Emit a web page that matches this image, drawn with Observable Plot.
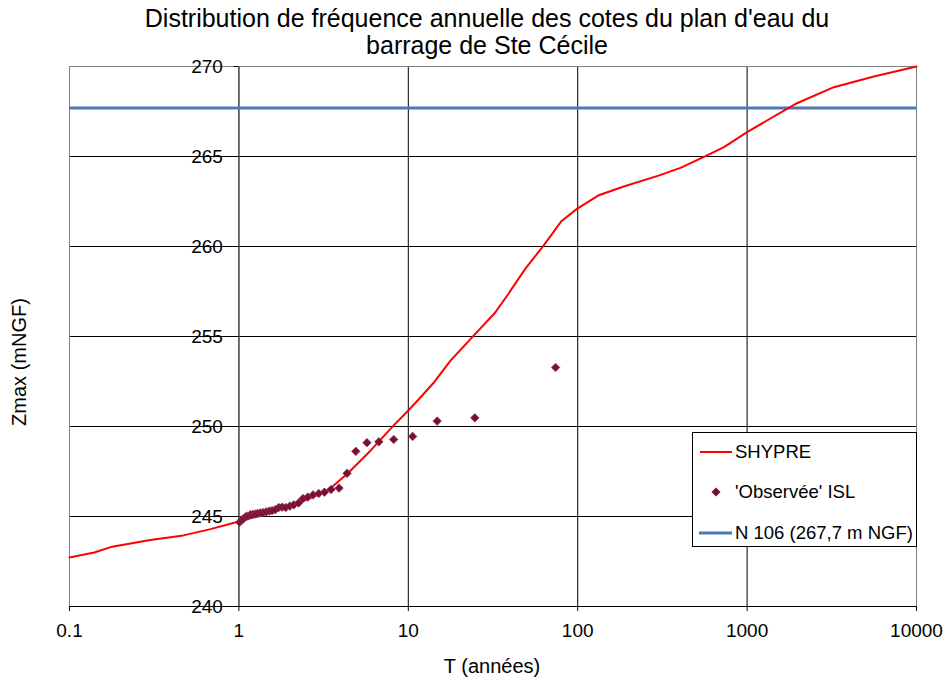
<!DOCTYPE html>
<html>
<head>
<meta charset="utf-8">
<script src="https://cdn.jsdelivr.net/npm/d3@7"></script>
<script src="https://cdn.jsdelivr.net/npm/@observablehq/plot@0.6"></script>
<style>
  body { margin: 0; background: #fff; font-family: Arial, "Liberation Sans", sans-serif; }
  #chart { position: relative; width: 946px; height: 686px; overflow: hidden; }
  #chart > svg { position: absolute; left: 0; top: 0; }
  #title { position: absolute; left: 87px; width: 800px; top: 5px; text-align: center;
           font-size: 25px; line-height: 27px; color: #000; }
  #xlabel { position: absolute; left: 392px; width: 200px; top: 655px; text-align: center; font-size: 20px; }
  #ylabel { position: absolute; left: -80px; width: 200px; top: 350px; text-align: center; font-size: 20px;
            transform: rotate(-90deg); transform-origin: 100px 12px; }
  #legend { position: absolute; left: 692px; top: 432px; width: 225px; height: 115px;
            border: 1px solid #000; background: #fff; box-sizing: border-box; font-size: 18.5px; }
  #legend .item { position: absolute; left: 6px; height: 24px; display: flex; align-items: center; white-space: nowrap; }
  #legend .item svg { position: static; margin-right: 2px; flex: none; }
</style>
</head>
<body>
<div id="chart">
  <div id="title">Distribution de fréquence annuelle des cotes du plan d'eau du<br>barrage de Ste Cécile</div>
  <div id="xlabel">T (années)</div>
  <div id="ylabel">Zmax (mNGF)</div>
</div>
<script>
// SHYPRE simulated frequency curve: return period (years) and max level (m NGF)
const shypreT = [0.1, 0.14, 0.175, 0.3, 0.47, 0.68, 1, 1.4, 2.2, 3.2, 3.5, 4.4, 6.0, 8.2, 10, 11.5, 14.2,
                 17.8, 24.4, 32.7, 38.4, 49, 63, 80, 99, 132, 185, 300, 404, 580, 730, 1000, 1310, 1970,
                 3250, 5600, 10000];
const shypreZ = [242.72, 243.0, 243.3, 243.7, 243.95, 244.3, 244.72, 245.1, 245.7, 246.35, 246.6, 247.4,
                 248.67, 250.06, 250.89, 251.5, 252.46, 253.67, 255.06, 256.35, 257.28, 258.76, 260.06,
                 261.4, 262.09, 262.83, 263.32, 263.94, 264.37, 265.06, 265.52, 266.35, 267.0, 267.96,
                 268.85, 269.44, 270.0];

// Observed annual maxima (ISL) with their empirical return periods
const obsT = [1.01, 1.04, 1.07, 1.10, 1.13, 1.17, 1.21, 1.25, 1.29, 1.34, 1.39, 1.45, 1.51, 1.57, 1.64,
              1.72, 1.8, 1.89, 2.0, 2.11, 2.25, 2.39, 2.55, 2.74, 2.96, 3.2, 3.5, 3.9, 4.35, 4.9, 5.7,
              6.7, 8.2, 10.6, 14.8, 24.7, 74];
const obsZ = [244.68, 244.8, 244.9, 245.0, 245.03, 245.1, 245.12, 245.14, 245.17, 245.2, 245.22, 245.26,
              245.3, 245.33, 245.38, 245.5, 245.52, 245.5, 245.58, 245.65, 245.75, 246.0, 246.08, 246.2,
              246.28, 246.35, 246.5, 246.58, 247.4, 248.62, 249.1, 249.15, 249.28, 249.45, 250.3, 250.48,
              253.28];

// Reference level N 106
const n106Level = 267.7;

// Axis ticks
const xTicks = [0.1, 1, 10, 100, 1000, 10000];
const yTicks = [240, 245, 250, 255, 260, 265, 270];

const shypre = shypreT.map((t, i) => ({T: t, Z: shypreZ[i]}));
const observed = obsT.map((t, i) => ({T: t, Z: obsZ[i]}));

const fontSize = 19;

const plot = Plot.plot({
  width: 946,
  height: 686,
  marginTop: 66,
  marginLeft: 69,
  marginRight: 30,
  marginBottom: 80,
  style: {fontFamily: "Arial, 'Liberation Sans', sans-serif", background: "transparent", color: "#000"},
  x: {type: "log", domain: [0.1, 10000]},
  y: {domain: [240, 270], axis: null},
  marks: [
    Plot.gridY(yTicks.filter(d => d > 240 && d < 270), {stroke: "#000", strokeOpacity: 1}),
    Plot.gridX(xTicks.filter(d => d > 0.1 && d < 10000), {stroke: "#000", strokeOpacity: 1}),
    Plot.frame({stroke: "#808080"}),
    Plot.ruleY([240], {stroke: "#000"}),
    Plot.ruleX([1], {stroke: "#555"}),
    Plot.axisX(xTicks, {tickSize: 5, tickPadding: 12, fontSize, tickFormat: d => String(d), label: null}),
    // y axis crosses at T = 1: ticks pointing left, labels beside them
    Plot.ruleY(yTicks, {y: d => d, x1: 1, x2: 1, insetLeft: -5, stroke: "#000"}),
    Plot.text(yTicks, {x: 1, y: d => d, text: d => String(d), dx: -16, textAnchor: "end", fontSize}),
    Plot.ruleY([n106Level], {stroke: "#4a7ab5", strokeWidth: 3}),
    Plot.line(shypre, {x: "T", y: "Z", stroke: "#ff0000", strokeWidth: 2}),
    Plot.dot(observed, {x: "T", y: "Z", symbol: "diamond2", r: 3.9, fill: "#7a1030", stroke: "#9a4066", strokeWidth: 0.6})
  ]
});
document.getElementById("chart").prepend(plot);

// Legend box
const legend = document.createElement("div");
legend.id = "legend";
const items = [
  {label: "SHYPRE", top: 7, swatch: `<line x1="1" y1="12" x2="33" y2="12" stroke="#ff0000" stroke-width="2"/>`},
  {label: "'Observée' ISL", top: 47, swatch: `<path d="M17 7.5 L21.5 12 L17 16.5 L12.5 12 Z" fill="#7a1030"/>`},
  {label: "N 106 (267,7 m NGF)", top: 88, swatch: `<line x1="0" y1="12" x2="33" y2="12" stroke="#4a7ab5" stroke-width="3"/>`}
];
for (const it of items) {
  const d = document.createElement("div");
  d.className = "item";
  d.style.top = it.top + "px";
  d.innerHTML = `<svg width="34" height="24">${it.swatch}</svg><span>${it.label}</span>`;
  legend.appendChild(d);
}
document.getElementById("chart").appendChild(legend);
</script>
</body>
</html>
